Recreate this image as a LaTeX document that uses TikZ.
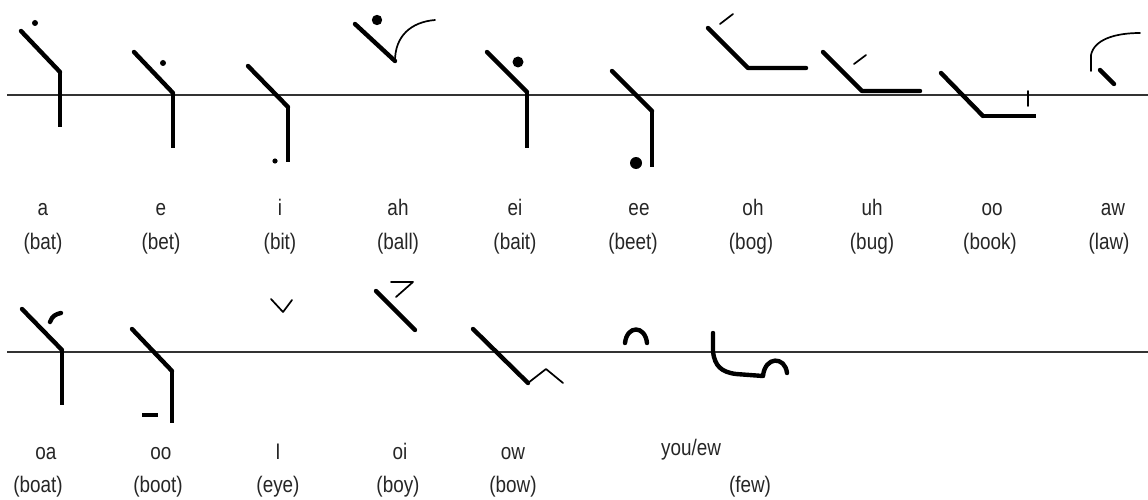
\documentclass[tikz,border=0pt]{standalone}
\usepackage{fontspec}
\setmainfont{Liberation Sans}[FakeStretch=0.84]
\tikzset{
  baseline rule/.style={line width=1.4pt, draw=black!80},
  pen/.style={line width=4.4pt, line cap=round, line join=round},
  stem/.style={line width=3.2pt},
  heavystem/.style={line width=4.4pt},
  fine/.style={line width=1.7pt, line cap=round, line join=round},
  lbl/.style={font=\fontsize{22.5}{26}\selectfont, text=black!85, inner sep=0pt, anchor=base},
}
\begin{document}
\begin{tikzpicture}[x=1pt,y=-1pt]
\useasboundingbox (0,0) rectangle (1148,500);
\fill[white] (0,0) rectangle (1148,500);

% writing lines
\draw[baseline rule] (7,95) -- (1148,95);
\draw[baseline rule] (7,352) -- (1148,352);

% ---- upper row of vowel signs ----
% a
\fill (35,23) circle (3);
\draw[pen] (21,31) -- (60,72);
\draw[stem] (60,72) -- (60,127);
% e
\fill (163,63) circle (3);
\draw[pen] (134,52) -- (173,93);
\draw[stem] (173,93) -- (173,148);
% i
\draw[pen] (248,66) -- (288,107);
\draw[stem] (288,107) -- (288,162);
\fill (275,161) circle (2.6);
% ah
\fill (377,20) circle (5.2);
\draw[pen] (355,24) -- (395,61);
\draw[fine] (395,61) .. controls (395,36) and (411,22) .. (435,20);
% ei
\draw[pen] (487,52) -- (527,92);
\fill (518,62) circle (5.5);
\draw[stem] (527,92) -- (527,148);
% ee
\draw[pen] (612,71) -- (652,111);
\draw[heavystem] (652,111) -- (652,167);
\fill (636,163) circle (6);
% oh
\draw[fine] (720,24) -- (733,14);
\draw[pen] (708,28) -- (748,68) -- (806,68);
% uh
\draw[fine] (854,64) -- (866,55);
\draw[pen] (823,52) -- (862,91) -- (920,91);
% oo (book)
\draw[pen] (941,73) -- (983,116);
\draw[stem] (983,116) -- (1036,116);
\draw[fine] (1028,91) -- (1028,106);
% aw
\draw[fine] (1091,71) -- (1091,55) .. controls (1094,40) and (1114,33) .. (1140,33);
\draw[pen] (1100,70) -- (1114,84);

% ---- lower row of vowel signs ----
% oa
\draw[pen] (22,309) -- (62,350);
\draw[stem] (62,350) -- (62,405);
\draw[pen] (50,322) .. controls (52,316) and (56,314) .. (61,313);
% oo (boot)
\draw[pen] (132,329) -- (172,371);
\draw[stem] (172,371) -- (172,423);
\draw[stem] (142,415) -- (158,415);
% I
\draw[fine] (271,299) -- (283,312) -- (292,300);
% oi
\draw[pen] (376,291) -- (415,330);
\draw[fine] (391,282) -- (413,282) -- (396,297);
% ow
\draw[pen] (473,329) -- (528,383);
\draw[fine] (528,383) -- (546,369) -- (563,383);
% you / ew
\draw[pen] (625,343) .. controls (627,325) and (645,325) .. (647,343);
\draw[pen] (713,333) -- (713,352) .. controls (715,366) and (721,372) .. (736,374)
  -- (763,376) .. controls (765,356) and (785,356) .. (787,373);

% ---- labels, upper row ----
\node[lbl] (la)   at (43,215)  {a};
\node[lbl] (le)   at (161,215) {e};
\node[lbl] (li)   at (280,215) {i};
\node[lbl] (lah)  at (398,215) {ah};
\node[lbl] (lei)  at (515,215) {ei};
\node[lbl] (lee)  at (639,215) {ee};
\node[lbl] (loh)  at (753,215) {oh};
\node[lbl] (luh)  at (872,215) {uh};
\node[lbl] (loo)  at (992,215) {oo};
\node[lbl] (law)  at (1113,215) {aw};
\node[lbl] (wa)   at (43,249)  {(bat)};
\node[lbl] (we)   at (161,249) {(bet)};
\node[lbl] (wi)   at (280,249) {(bit)};
\node[lbl] (wah)  at (398,249) {(ball)};
\node[lbl] (wei)  at (515,249) {(bait)};
\node[lbl] (wee)  at (633,249) {(beet)};
\node[lbl] (woh)  at (751,249) {(bog)};
\node[lbl] (wuh)  at (872,249) {(bug)};
\node[lbl] (woo)  at (990,249) {(book)};
\node[lbl] (waw)  at (1109,249) {(law)};

% ---- labels, lower row ----
\node[lbl] (loa)  at (46,459)  {oa};
\node[lbl] (loo2) at (161,459) {oo};
\node[lbl] (lI)   at (278,459) {I};
\node[lbl] (loi)  at (400,459) {oi};
\node[lbl] (low)  at (513,459) {ow};
\node[lbl] (lyou) at (691,455) {you/ew};
\node[lbl] (woa)  at (38,492)  {(boat)};
\node[lbl] (woo2) at (158,492) {(boot)};
\node[lbl] (wI)   at (278,492) {(eye)};
\node[lbl] (woi)  at (398,492) {(boy)};
\node[lbl] (wow)  at (513,492) {(bow)};
\node[lbl] (wyou) at (750,492) {(few)};
\end{tikzpicture}
\end{document}
